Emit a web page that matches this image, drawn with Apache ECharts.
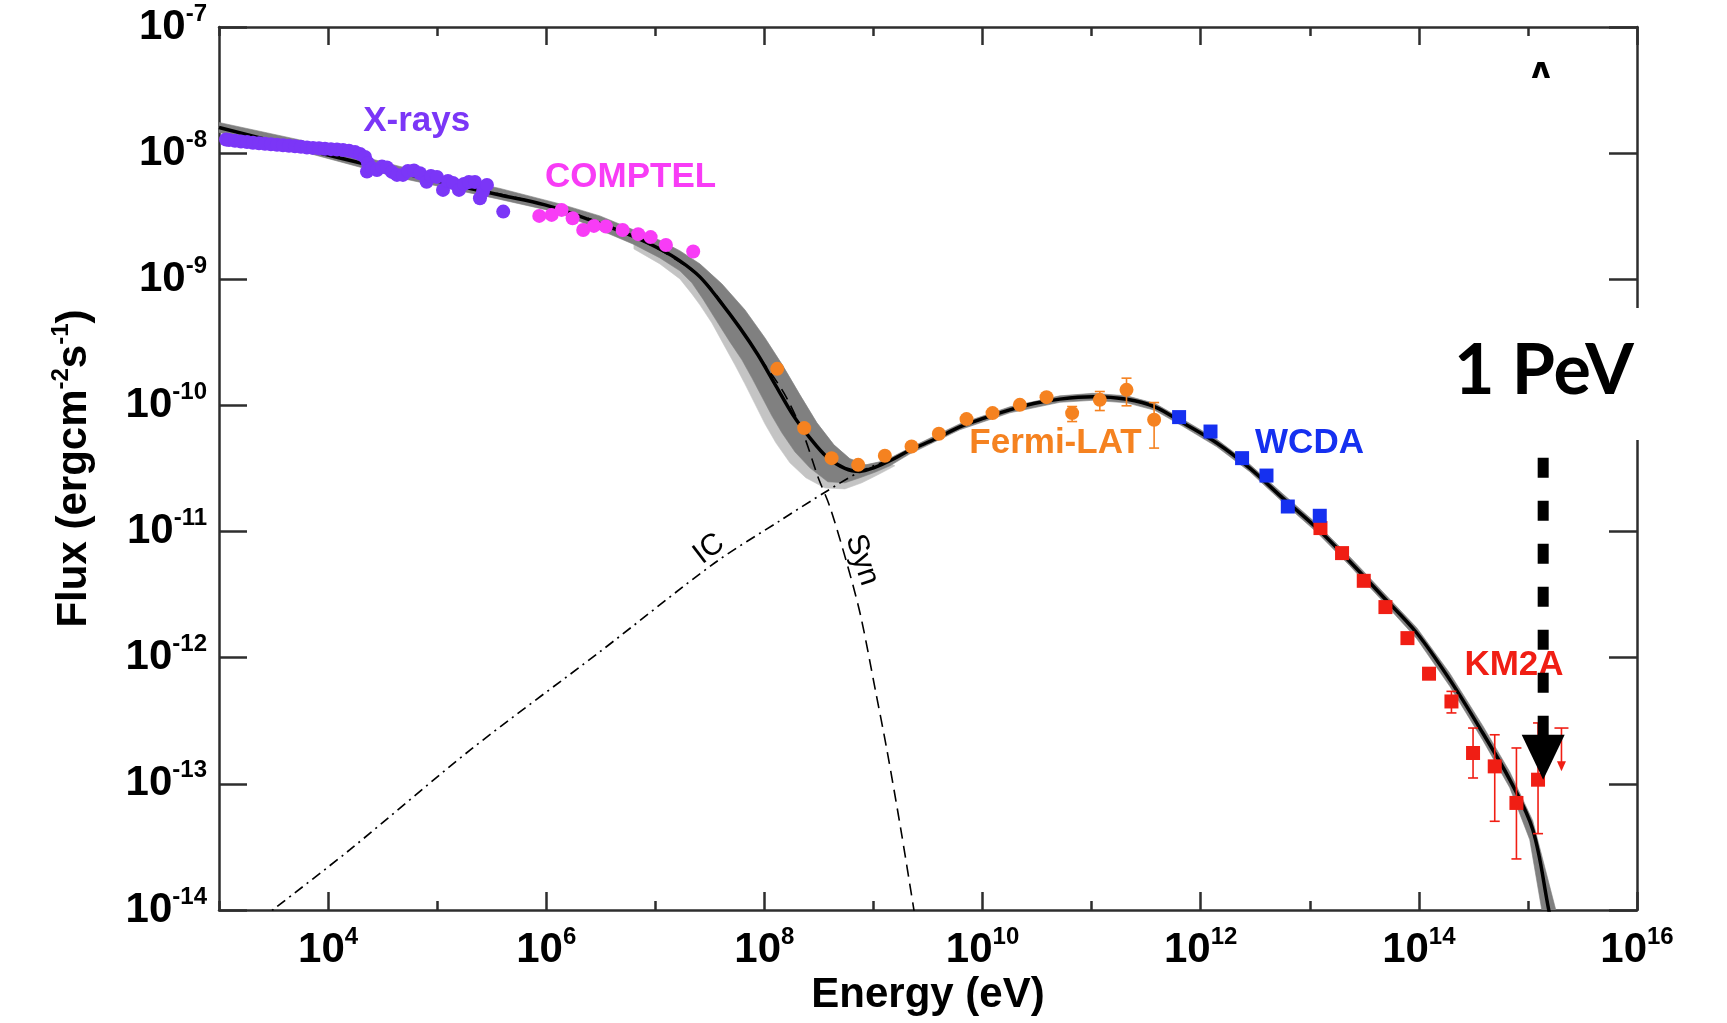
<!DOCTYPE html>
<html><head><meta charset="utf-8">
<script src="https://cdn.jsdelivr.net/npm/echarts@6/dist/echarts.min.js"></script>
<style>html,body{margin:0;padding:0;background:#fff}#c{width:1727px;height:1023px}</style>
</head><body><div id="c"></div>
<script>
// ---------------- data ----------------
const xTickExps = [4, 6, 8, 10, 12, 14, 16];
const xMinorExps = [3, 5, 7, 9, 11, 13, 15];
const yTickExps = [-14, -13, -12, -11, -10, -9, -8, -7];

const xrayData = [
  [1.16e3,1.284e-8],[1.235e3,1.272e-8],[1.402e3,1.254e-8],[1.591e3,1.238e-8],[1.806e3,1.223e-8],
  [2.049e3,1.209e-8],[2.326e3,1.198e-8],[2.640e3,1.187e-8],[2.996e3,1.176e-8],[3.401e3,1.166e-8],
  [3.860e3,1.155e-8],[4.381e3,1.145e-8],[4.973e3,1.132e-8],[5.644e3,1.122e-8],[6.406e3,1.110e-8],
  [7.271e3,1.100e-8],[8.253e3,1.092e-8],[9.367e3,1.084e-8],[1.063e4,1.076e-8],[1.207e4,1.068e-8],
  [1.370e4,1.060e-8],[1.555e4,1.045e-8],[1.765e4,1.022e-8],[1.961e4,9.86e-9],[2.179e4,9.33e-9],
  [2.321e4,8.36e-9],[2.273e4,7.14e-9],[2.525e4,7.63e-9],[2.807e4,7.36e-9],[3.119e4,7.82e-9],
  [3.466e4,7.70e-9],[3.852e4,7.10e-9],[4.280e4,6.72e-9],[4.859e4,6.72e-9],[5.398e4,7.23e-9],
  [6.130e4,7.29e-9],[6.955e4,6.93e-9],[8.013e4,5.94e-9],[8.774e4,6.60e-9],[9.96e4,6.48e-9],
  [1.131e5,5.11e-9],[1.256e5,6.02e-9],[1.396e5,5.81e-9],[1.585e5,5.11e-9],[1.761e5,5.70e-9],
  [1.956e5,5.91e-9],[2.221e5,5.91e-9],[2.468e5,4.39e-9],[2.630e5,4.95e-9],[2.861e5,5.60e-9],
  [4.036e5,3.44e-9]
];
const comptelData = [
  [8.63e5,3.18e-9],[1.121e6,3.24e-9],[1.384e6,3.55e-9],[1.746e6,3.05e-9],[2.183e6,2.46e-9],
  [2.736e6,2.65e-9],[3.526e6,2.62e-9],[5.016e6,2.46e-9],[6.971e6,2.28e-9],[9.06e6,2.16e-9],
  [1.251e7,1.87e-9],[2.225e7,1.66e-9]
];
const fermiData = [
  [1.31e8,1.95e-10],[2.316e8,6.61e-11],[4.13e8,3.82e-11],[7.24e8,3.38e-11],[1.272e9,3.99e-11],
  [2.235e9,4.72e-11],[3.977e9,5.96e-11],[7.13e9,7.79e-11],[1.235e10,8.69e-11],[2.198e10,1.011e-10],
  [3.86e10,1.163e-10],[6.63e10,8.69e-11],[1.189e11,1.107e-10],[2.089e11,1.329e-10],[3.741e11,7.69e-11]
];
const fermiErr = [
  [6.63e10,7.45e-11,9.80e-11],[1.189e11,9.11e-11,1.289e-10],[2.089e11,9.93e-11,1.645e-10],[3.741e11,4.59e-11,1.054e-10]
];
const wcdaData = [
  [6.34e11,8.08e-11],[1.23e12,6.21e-11],[2.396e12,3.82e-11],[4.01e12,2.78e-11],[6.29e12,1.58e-11],[1.235e13,1.334e-11]
];
const km2aData = [
  [1.253e13,1.066e-11],[1.977e13,6.75e-12],[3.126e13,4.07e-12],[4.94e13,2.52e-12],[7.86e13,1.43e-12],
  [1.24e14,7.47e-13],[1.99e14,4.50e-13],[3.14e14,1.757e-13],[4.963e14,1.376e-13],[7.846e14,7.06e-14],
  [1.238e15,1.079e-13]
];
const km2aErr = [
  [1.24e14,7.0e-13,7.95e-13],[1.99e14,3.65e-13,5.41e-13],[3.14e14,1.113e-13,2.77e-13],
  [4.963e14,5.05e-14,2.45e-13],[7.846e14,2.54e-14,1.925e-13],[1.238e15,4.03e-14,3.04e-13]
];
const km2aUL = [[2.03e15,2.77e-13,1.256e-13]];   // [E, upper-limit cap, arrow tip]

const modelTotal = [
  [1e3,1.598e-8],[3.624e3,1.204e-8],[1.286e4,9.16e-9],[4.56e4,7.03e-9],[1.31e5,5.70e-9],[3.765e5,4.66e-9],
  [9.73e5,3.89e-9],[2.515e6,2.96e-9],[6.365e6,2.18e-9],[1.102e7,1.74e-9],[1.681e7,1.40e-9],[2.563e7,1.045e-9],
  [3.828e7,6.87e-10],[5.963e7,4.12e-10],[8.716e7,2.52e-10],[1.275e8,1.43e-10],[1.825e8,8.42e-11],[2.613e8,5.54e-11],
  [3.741e8,3.91e-11],[5.47e8,3.17e-11],[7.507e8,3.00e-11],[1.030e9,3.23e-11],[1.414e9,3.64e-11],[2.156e9,4.41e-11],
  [3.733e9,5.44e-11],[6.194e9,6.77e-11],[1.050e10,7.97e-11],[1.779e10,9.23e-11],[3.016e10,1.039e-10],[5.11e10,1.122e-10],
  [1.026e11,1.170e-10],[2.102e11,1.118e-10],[3.796e11,9.75e-11],[6.855e11,7.28e-11],[1.405e12,5.03e-11],[2.818e12,3.18e-11],
  [5.656e12,1.842e-11],[1.16e13,1.066e-11],[2.326e13,5.80e-12],[4.67e13,3.06e-12],[9.57e13,1.57e-12],[1.92e14,6.70e-13],
  [3.853e14,2.53e-13],[6.812e14,1.08e-13],[1.107e15,4.34e-14],[1.551e15,1.007e-14],[1.688e15,7.0e-15]
];
const modelSyn = [
  [1e3,1.598e-8],[4.56e4,7.03e-9],[9.73e5,3.89e-9],[6.365e6,2.18e-9],[2.563e7,1.045e-9],[5.963e7,4.12e-10],
  [8.716e7,2.52e-10],[1.509e8,1.258e-10],[2.254e8,6.07e-11],[3.094e8,2.72e-11],[3.985e8,1.572e-11],[5.826e8,5.26e-12],
  [7.666e8,2.11e-12],[1.052e9,5.28e-13],[1.327e9,1.866e-13],[1.783e9,4.34e-14],[2.346e9,1.007e-14],[2.499e9,7.0e-15]
];
const modelIC = [
  [2.376e3,8.39e-15],[3.106e3,1.0e-14],[1.588e4,3.01e-14],[2.028e5,1.866e-13],[3.106e6,1.115e-12],
  [3.518e7,5.66e-12],[1.387e8,1.218e-11],[3.66e8,2.07e-11],[7.507e8,2.98e-11],[1.414e9,3.71e-11]
];
const bandUpper = [
  [1e3,1.751e-8],[5.526e3,1.272e-8],[4.56e4,7.84e-9],[3.765e5,5.25e-9],[1.336e6,3.96e-9],[3.106e6,3.18e-9],
  [6.365e6,2.46e-9],[1.102e7,2.033e-9],[1.681e7,1.679e-9],[2.563e7,1.324e-9],[4.077e7,9.19e-10],[6.625e7,5.72e-10],
  [1.011e8,3.43e-10],[1.478e8,2.06e-10],[2.116e8,1.213e-10],[3.028e8,7.28e-11],[4.335e8,4.87e-11],[6.076e8,3.78e-11],
  [8.517e8,3.38e-11],[1.272e9,3.64e-11],
  [2.156e9,4.61e-11],[6.194e9,7.15e-11],[1.779e10,9.75e-11],[5.11e10,1.191e-10],[1.026e11,1.247e-10],[2.102e11,1.191e-10],
  [3.796e11,1.039e-10],[6.855e11,7.76e-11],[1.405e12,5.39e-11],[2.818e12,3.41e-11],[5.656e12,1.993e-11],[1.16e13,1.153e-11],
  [2.326e13,6.32e-12],[4.67e13,3.33e-12],[9.57e13,1.729e-12],[1.92e14,7.54e-13],[3.853e14,2.89e-13],[6.812e14,1.249e-13],
  [1.107e15,5.11e-14],[1.798e15,1.007e-14],[1.957e15,7.0e-15]
];
const bandLower = [
  [1e3,1.459e-8],[5.526e3,1.041e-8],[4.56e4,6.36e-9],[3.765e5,4.30e-9],[1.336e6,3.36e-9],[3.106e6,2.46e-9],
  [6.365e6,1.890e-9],[1.102e7,1.477e-9],[1.681e7,1.166e-9],[2.165e7,9.37e-10],[2.731e7,6.99e-10],[3.594e7,4.77e-10],
  [4.83e7,3.19e-10],[6.22e7,2.30e-10],[7.68e7,1.655e-10],[9.486e7,1.170e-10],[1.172e8,8.27e-11],[1.447e8,6.07e-11],
  [1.904e8,4.29e-11],[2.613e8,3.20e-11],[3.82e8,2.48e-11],[5.47e8,2.435e-11],[7.507e8,2.67e-11],[1.030e9,2.95e-11],
  [1.414e9,3.32e-11],[2.156e9,4.13e-11],
  [6.194e9,6.41e-11],[1.779e10,8.74e-11],[5.11e10,1.058e-10],[1.026e11,1.098e-10],[2.102e11,1.048e-10],[3.796e11,9.15e-11],
  [6.855e11,6.83e-11],[1.405e12,4.70e-11],[2.818e12,2.98e-11],[5.656e12,1.707e-11],[1.16e13,9.87e-12],[2.326e13,5.36e-12],
  [4.67e13,2.80e-12],[9.57e13,1.415e-12],[1.92e14,5.94e-13],[3.853e14,2.22e-13],[6.812e14,9.33e-14],[1.039e15,3.61e-14],
  [1.338e15,1.007e-14],[1.426e15,7.0e-15]
];
const bandLightLower = [
  [6.365e6,1.741e-9],[1.102e7,1.324e-9],[1.681e7,1.007e-9],[2.165e7,7.66e-10],[2.563e7,6.27e-10],[3.302e7,4.51e-10],
  [4.254e7,3.02e-10],[5.364e7,2.10e-10],[6.625e7,1.483e-10],[8.185e7,1.030e-10],[1.011e8,7.15e-11],[1.275e8,5.05e-11],
  [1.713e8,3.51e-11],[2.401e8,2.67e-11],[3.585e8,2.22e-11],[5.47e8,2.18e-11],[7.83e8,2.435e-11],[1.097e9,2.82e-11],
  [1.571e9,3.32e-11]
];
const peVArrow = [[1.38e15, 3.85e-11, 2.45e-13, 1.08e-13]]; // [E, dash start, head base, tip]

// ---------------- styling ----------------
const FONT = '"Liberation Sans", Arial, Helvetica, sans-serif';
const AX = '#2e2e2e';
const C_X = '#7B36F7', C_COMP = '#F83CF6', C_FERMI = '#F58220', C_WCDA = '#1530F0', C_KM2A = '#F01E14';
const pw = e => Number('1e' + e);
const expOf = v => Math.round(Math.log10(v));
const richTick = {
  b: { fontSize: 42, fontWeight: 'bold', fontFamily: FONT, color: '#000', lineHeight: 50 },
  s: { fontSize: 24, fontWeight: 'bold', fontFamily: FONT, color: '#000', verticalAlign: 'top', lineHeight: 24 }
};
const tickFmt = v => '{b|10}{s|' + expOf(v) + '}';

function clipGroup(params, children) {
  const cs = params.coordSys;
  return { type: 'group', children: children,
    clipPath: { type: 'rect', shape: { x: cs.x, y: cs.y, width: cs.width, height: cs.height } } };
}
function bandRender(upper, lower, color) {
  return function (params, api) {
    if (params.dataIndex !== 0) return null;
    const pts = upper.map(p => api.coord(p)).concat(lower.slice().reverse().map(p => api.coord(p)));
    return clipGroup(params, [{ type: 'polygon', shape: { points: pts, smooth: 0 },
      style: { fill: color, stroke: color, lineWidth: 0.6 } }]);
  };
}
function errRender(color) {
  return function (params, api) {
    const x = api.value(0);
    const a = api.coord([x, api.value(2)]), b = api.coord([x, api.value(1)]);
    const w = 5, st = { stroke: color, lineWidth: 1.6, fill: null };
    return { type: 'group', children: [
      { type: 'line', shape: { x1: a[0], y1: a[1], x2: b[0], y2: b[1] }, style: st },
      { type: 'line', shape: { x1: a[0] - w, y1: a[1], x2: a[0] + w, y2: a[1] }, style: st },
      { type: 'line', shape: { x1: b[0] - w, y1: b[1], x2: b[0] + w, y2: b[1] }, style: st }
    ] };
  };
}
function ulRender(params, api) {
  const x = api.value(0);
  const c = api.coord([x, api.value(1)]), t = api.coord([x, api.value(2)]);
  const st = { stroke: C_KM2A, lineWidth: 1.6, fill: null };
  return { type: 'group', children: [
    { type: 'line', shape: { x1: c[0] - 7, y1: c[1], x2: c[0] + 7, y2: c[1] }, style: st },
    { type: 'line', shape: { x1: c[0], y1: c[1], x2: t[0], y2: t[1] - 8 }, style: st },
    { type: 'polygon', shape: { points: [[t[0] - 4.5, t[1] - 10], [t[0] + 4.5, t[1] - 10], [t[0], t[1]]] },
      style: { fill: C_KM2A } }
  ] };
}
function arrowRender(params, api) {
  const e = api.value(0);
  const top = api.coord([e, api.value(1)]), base = api.coord([e, api.value(2)]), tip = api.coord([e, api.value(3)]);
  return { type: 'group', children: [
    { type: 'line', shape: { x1: top[0], y1: top[1], x2: base[0], y2: base[1] + 1 },
      style: { stroke: '#000', lineWidth: 11, lineDash: [20, 23], lineCap: 'butt', fill: null } },
    { type: 'polygon', shape: { points: [[base[0] - 21.5, base[1]], [base[0] + 21.5, base[1]], [tip[0], tip[1]]] },
      style: { fill: '#000' } }
  ] };
}

const gridRect = { left: 219, right: 90, top: 27, bottom: 113, outerBoundsMode: 'none' };
const xMajor = xTickExps.map(pw), xMinor = xMinorExps.map(pw), yMajor = yTickExps.map(pw);
const axLine = { show: true, onZero: false, lineStyle: { color: AX, width: 2.5 } };
const baseLogX = { type: 'log', logBase: 10, min: pw(3), max: pw(16), splitLine: { show: false } };
const baseLogY = { type: 'log', logBase: 10, min: pw(-14), max: pw(-7), splitLine: { show: false } };

const lightUpper = bandUpper.filter(p => p[0] >= 6e6 && p[0] <= 1.6e9);

const option = {
  animation: false,
  backgroundColor: '#fff',
  grid: [Object.assign({}, gridRect), Object.assign({}, gridRect)],
  xAxis: [
    Object.assign({}, baseLogX, { gridIndex: 0, position: 'bottom', axisLine: axLine,
      axisTick: { show: true, inside: true, length: 18, customValues: xMajor, lineStyle: { color: AX, width: 2.5 } },
      axisLabel: { show: true, customValues: xMajor, margin: 15, formatter: tickFmt, rich: richTick },
      name: 'Energy (eV)', nameLocation: 'middle', nameGap: 64, nameMoveOverlap: false,
      nameTextStyle: { fontSize: 42, fontWeight: 'bold', fontFamily: FONT, color: '#000', lineHeight: 42 } }),
    Object.assign({}, baseLogX, { gridIndex: 0, position: 'top', axisLine: axLine,
      axisTick: { show: true, inside: true, length: 18, customValues: xMajor, lineStyle: { color: AX, width: 2.5 } },
      axisLabel: { show: false } }),
    Object.assign({}, baseLogX, { gridIndex: 1, position: 'bottom', axisLine: { show: false },
      axisTick: { show: true, inside: true, length: 9, customValues: xMinor, lineStyle: { color: AX, width: 2.5 } },
      axisLabel: { show: false } }),
    Object.assign({}, baseLogX, { gridIndex: 1, position: 'top', axisLine: { show: false },
      axisTick: { show: true, inside: true, length: 9, customValues: xMinor, lineStyle: { color: AX, width: 2.5 } },
      axisLabel: { show: false } })
  ],
  yAxis: [
    Object.assign({}, baseLogY, { gridIndex: 0, position: 'left', axisLine: axLine,
      axisTick: { show: true, inside: true, length: 28, customValues: yMajor, lineStyle: { color: AX, width: 2.5 } },
      axisLabel: { show: true, customValues: yMajor, margin: 12, formatter: tickFmt, rich: richTick },
      name: 'Flux (ergcm{s|-2}s{s|-1})', nameLocation: 'middle', nameGap: 120, nameMoveOverlap: false,
      nameTextStyle: { fontSize: 42, fontWeight: 'bold', fontFamily: FONT, color: '#000', lineHeight: 50,
        rich: { s: { fontSize: 24, fontWeight: 'bold', fontFamily: FONT, color: '#000', verticalAlign: 'top', lineHeight: 24 } } } }),
    Object.assign({}, baseLogY, { gridIndex: 0, position: 'right', axisLine: axLine,
      axisTick: { show: true, inside: true, length: 28, customValues: yMajor, lineStyle: { color: AX, width: 2.5 } },
      axisLabel: { show: false } }),
    Object.assign({}, baseLogY, { gridIndex: 1, show: false })
  ],
  series: [
    { type: 'custom', name: 'band-light', renderItem: bandRender(lightUpper, bandLightLower, '#C4C4C4'),
      data: lightUpper, encode: { x: 0, y: 1 }, z: 1, silent: true },
    { type: 'custom', name: 'band', renderItem: bandRender(bandUpper, bandLower, '#808080'),
      data: bandUpper, encode: { x: 0, y: 1 }, z: 1, silent: true },
    { type: 'line', name: 'IC', data: modelIC, showSymbol: false, smooth: 0.3, z: 2,
      lineStyle: { color: '#000', width: 1.7, type: [10, 5, 2, 5] } },
    { type: 'line', name: 'Syn', data: modelSyn, showSymbol: false, smooth: 0.3, z: 2,
      lineStyle: { color: '#000', width: 1.6, type: [12, 7] } },
    { type: 'line', name: 'Total', data: modelTotal, showSymbol: false, smooth: 0.35, z: 3,
      lineStyle: { color: '#000', width: 3.5 } },
    { type: 'scatter', name: 'X-rays', data: xrayData, symbol: 'circle', symbolSize: 14, z: 4,
      itemStyle: { color: C_X, opacity: 1 } },
    { type: 'scatter', name: 'COMPTEL', data: comptelData, symbol: 'circle', symbolSize: 14, z: 4,
      itemStyle: { color: C_COMP, opacity: 1 } },
    { type: 'custom', name: 'Fermi err', renderItem: errRender(C_FERMI), data: fermiErr,
      encode: { x: 0, y: [1, 2] }, z: 4 },
    { type: 'scatter', name: 'Fermi-LAT', data: fermiData, symbol: 'circle', symbolSize: 14, z: 5,
      itemStyle: { color: C_FERMI, opacity: 1 } },
    { type: 'custom', name: 'KM2A err', renderItem: errRender(C_KM2A), data: km2aErr,
      encode: { x: 0, y: [1, 2] }, z: 4 },
    { type: 'custom', name: 'KM2A UL', renderItem: ulRender, data: km2aUL,
      encode: { x: 0, y: [1, 2] }, z: 4 },
    { type: 'scatter', name: 'KM2A', data: km2aData, symbol: 'rect', symbolSize: 14, z: 5,
      itemStyle: { color: C_KM2A, opacity: 1 } },
    { type: 'scatter', name: 'WCDA', data: wcdaData, symbol: 'rect', symbolSize: 14, z: 6,
      itemStyle: { color: C_WCDA, opacity: 1 } },
    { type: 'custom', name: '1 PeV arrow', renderItem: arrowRender, data: peVArrow,
      encode: { x: 0, y: [1, 2, 3] }, z: 10 }
  ],
  graphic: [
    { type: 'rect', z: 100, shape: { x: 1440, y: 308, width: 270, height: 132 }, style: { fill: '#fff' } },
    { type: 'text', z: 101, x: 1544, y: 371, style: { text: '1 PeV', fill: '#000', fontSize: 70, fontWeight: 'bold',
      fontFamily: 'Lato, "Open Sans", sans-serif', textAlign: 'center', textVerticalAlign: 'middle', align: 'center', verticalAlign: 'middle' } },
    { type: 'text', z: 100, x: 1541, y: 79, style: { text: 'A', fill: '#000', fontSize: 40, fontWeight: 'bold',
      fontFamily: FONT, textAlign: 'center', textVerticalAlign: 'middle', align: 'center', verticalAlign: 'middle' } },
    { type: 'rect', z: 101, shape: { x: 1518, y: 78, width: 48, height: 30 }, style: { fill: '#fff' } },
    { type: 'text', z: 100, x: 416.7, y: 121, style: { text: 'X-rays', fill: C_X, fontSize: 35, fontWeight: 'bold',
      fontFamily: FONT, textAlign: 'center', textVerticalAlign: 'middle', align: 'center', verticalAlign: 'middle' } },
    { type: 'text', z: 100, x: 630.6, y: 177.5, style: { text: 'COMPTEL', fill: C_COMP, fontSize: 35, fontWeight: 'bold',
      fontFamily: FONT, textAlign: 'center', textVerticalAlign: 'middle', align: 'center', verticalAlign: 'middle' } },
    { type: 'text', z: 100, x: 1055.5, y: 443, style: { text: 'Fermi-LAT', fill: C_FERMI, fontSize: 35, fontWeight: 'bold',
      fontFamily: FONT, textAlign: 'center', textVerticalAlign: 'middle', align: 'center', verticalAlign: 'middle' } },
    { type: 'text', z: 100, x: 1309.5, y: 443, style: { text: 'WCDA', fill: C_WCDA, fontSize: 35, fontWeight: 'bold',
      fontFamily: FONT, textAlign: 'center', textVerticalAlign: 'middle', align: 'center', verticalAlign: 'middle' } },
    { type: 'text', z: 9, x: 1514, y: 665, style: { text: 'KM2A', fill: C_KM2A, fontSize: 35, fontWeight: 'bold',
      fontFamily: FONT, textAlign: 'center', textVerticalAlign: 'middle', align: 'center', verticalAlign: 'middle' } },
    { type: 'text', z: 100, x: 709, y: 549, rotation: 0.65, style: { text: 'IC', fill: '#000', fontSize: 30,
      fontFamily: FONT, textAlign: 'center', textVerticalAlign: 'middle', align: 'center', verticalAlign: 'middle' } },
    { type: 'text', z: 100, x: 862, y: 560, rotation: -1.25, style: { text: 'Syn', fill: '#000', fontSize: 30,
      fontFamily: FONT, textAlign: 'center', textVerticalAlign: 'middle', align: 'center', verticalAlign: 'middle' } }
  ]
};
const chart = echarts.init(document.getElementById('c'), null, { renderer: 'canvas' });
chart.setOption(option);
</script></body></html>
